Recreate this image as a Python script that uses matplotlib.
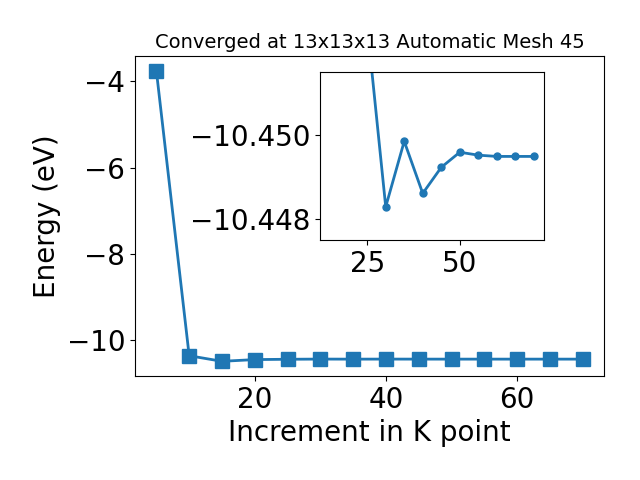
import matplotlib
matplotlib.use("Agg")
import matplotlib.pyplot as plt

kpoints = [5, 10, 15, 20, 25, 30, 35, 40, 45, 50, 55, 60, 65, 70]
energy = [-3.75, -10.37, -10.50, -10.46, -10.4526, -10.44829, -10.44985, -10.44861,
          -10.44923, -10.44959, -10.44952, -10.44949, -10.44949, -10.44949]

fig = plt.figure(figsize=(6.4, 4.8), dpi=100)
ax = fig.add_axes([0.211, 0.217, 0.733, 0.666])
ax.plot(kpoints, energy, marker='s', markersize=10, linewidth=2, color='#1f77b4')
ax.set_xlabel('Increment in K point', fontsize=20)
ax.set_ylabel('Energy (eV)', fontsize=20)
ax.set_title('Converged at 13x13x13 Automatic Mesh 45', fontsize=14)
ax.tick_params(labelsize=20)

ins = fig.add_axes([0.5, 0.5, 0.35, 0.35])
ins.plot(kpoints[2:], energy[2:], marker='o', markersize=5, linewidth=2, color='#1f77b4')
ins.set_ylim(-10.4475, -10.4515)
ins.set_yticks([-10.450, -10.448])
ins.set_yticklabels(['\u221210.450', '\u221210.448'])
ins.set_xticks([25, 50])
ins.tick_params(labelsize=20)

fig.savefig('out.png', dpi=100)
